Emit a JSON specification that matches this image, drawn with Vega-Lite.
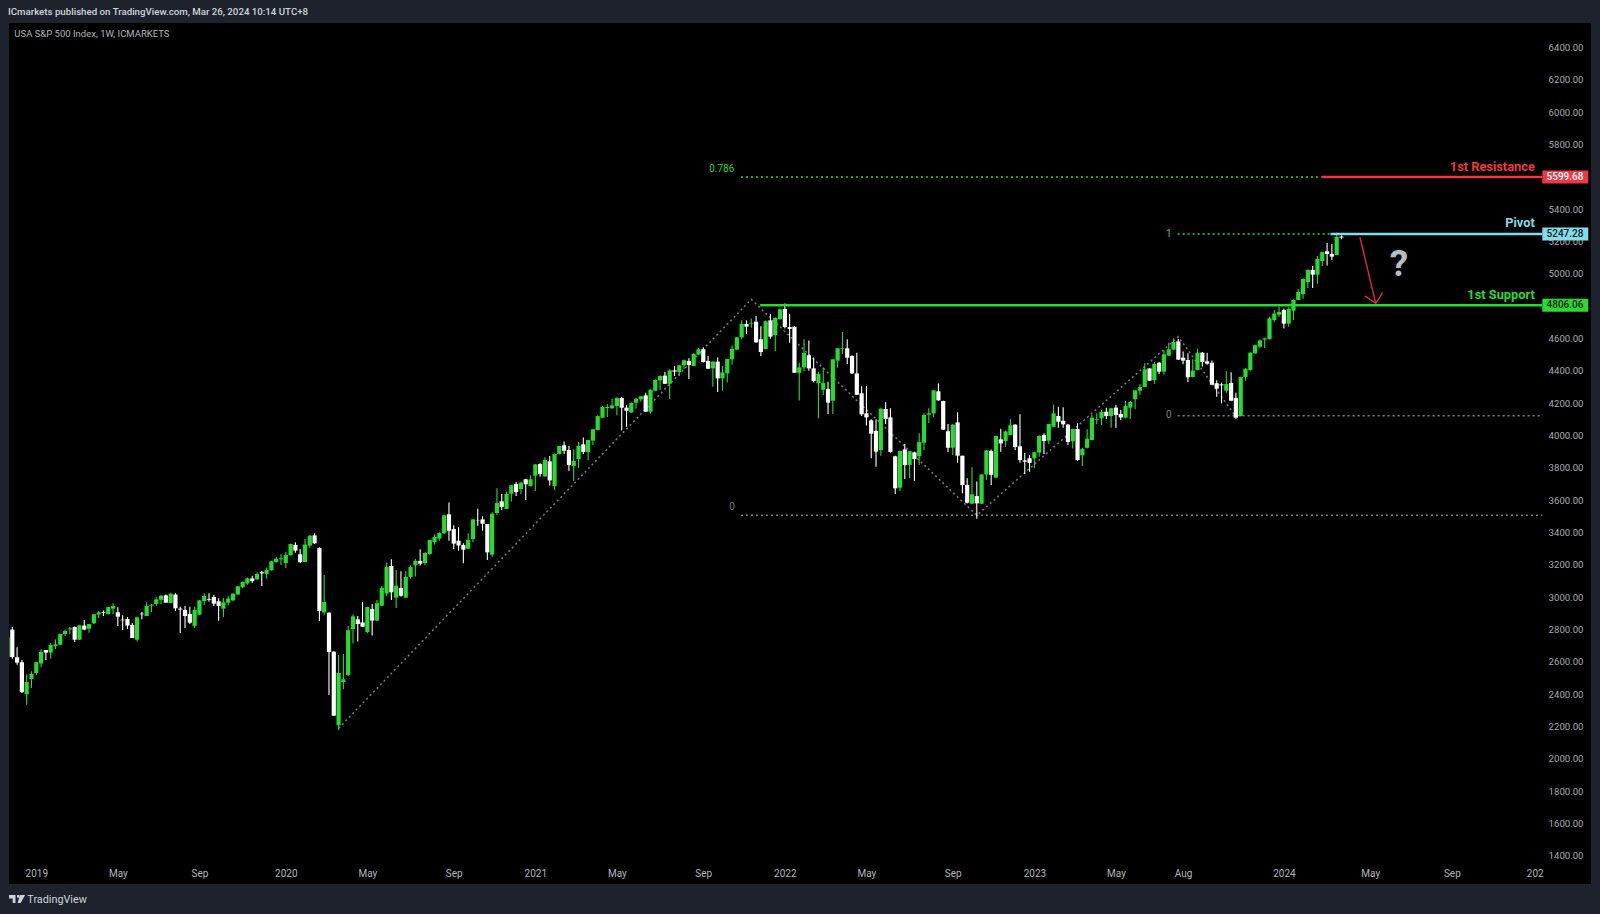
{"$schema":"https://vega.github.io/schema/vega-lite/v6.json","width":1582,"height":861,"autosize":{"type":"none"},"padding":{"left":9,"top":23,"right":9,"bottom":30},"background":"#1e222d","view":{"fill":"#000000","stroke":null},
"title":{"text":"ICmarkets published on TradingView.com, Mar 26, 2024 10:14 UTC+8","anchor":"start","frame":"group","offset":6,"dx":-1,"font":"Roboto","fontSize":9.7,"fontWeight":500,"color":"#d1d4dc"},
"config":{"axis":{"grid":false,"domain":false,"ticks":false,"title":null}},
"datasets":{
"candles":[
{"date":"2018-11-26","open":2629,"high":2760,"low":2620,"close":2752},
{"date":"2018-12-03","open":2800,"high":2816,"low":2620,"close":2631},
{"date":"2018-12-10","open":2629,"high":2691,"low":2583,"close":2596},
{"date":"2018-12-17","open":2598,"high":2612,"low":2408,"close":2414},
{"date":"2018-12-24","open":2400,"high":2524,"low":2336,"close":2476},
{"date":"2018-12-31","open":2495,"high":2542,"low":2439,"close":2526},
{"date":"2019-01-07","open":2532,"high":2600,"low":2519,"close":2598},
{"date":"2019-01-14","open":2590,"high":2678,"low":2567,"close":2662},
{"date":"2019-01-21","open":2674,"high":2674,"low":2612,"close":2658},
{"date":"2019-01-28","open":2658,"high":2719,"low":2620,"close":2705},
{"date":"2019-02-04","open":2697,"high":2740,"low":2680,"close":2709},
{"date":"2019-02-11","open":2707,"high":2775,"low":2703,"close":2773},
{"date":"2019-02-18","open":2773,"high":2800,"low":2761,"close":2792},
{"date":"2019-02-25","open":2802,"high":2816,"low":2773,"close":2808},
{"date":"2019-03-04","open":2816,"high":2820,"low":2724,"close":2738},
{"date":"2019-03-11","open":2738,"high":2829,"low":2736,"close":2827},
{"date":"2019-03-18","open":2825,"high":2860,"low":2796,"close":2800},
{"date":"2019-03-25","open":2806,"high":2835,"low":2781,"close":2835},
{"date":"2019-04-01","open":2839,"high":2897,"low":2835,"close":2895},
{"date":"2019-04-08","open":2893,"high":2913,"low":2872,"close":2907},
{"date":"2019-04-15","open":2907,"high":2919,"low":2884,"close":2903},
{"date":"2019-04-22","open":2897,"high":2942,"low":2893,"close":2940},
{"date":"2019-04-29","open":2930,"high":2963,"low":2897,"close":2946},
{"date":"2019-05-06","open":2907,"high":2938,"low":2823,"close":2880},
{"date":"2019-05-13","open":2862,"high":2889,"low":2798,"close":2858},
{"date":"2019-05-20","open":2866,"high":2878,"low":2804,"close":2825},
{"date":"2019-05-27","open":2829,"high":2841,"low":2748,"close":2748},
{"date":"2019-06-03","open":2738,"high":2882,"low":2728,"close":2876},
{"date":"2019-06-10","open":2899,"high":2911,"low":2864,"close":2895},
{"date":"2019-06-17","open":2884,"high":2969,"low":2884,"close":2946},
{"date":"2019-06-24","open":2948,"high":2959,"low":2909,"close":2955},
{"date":"2019-07-01","open":2959,"high":3000,"low":2948,"close":2987},
{"date":"2019-07-08","open":2985,"high":3014,"low":2959,"close":3010},
{"date":"2019-07-15","open":3012,"high":3017,"low":2967,"close":2967},
{"date":"2019-07-22","open":2965,"high":3025,"low":2963,"close":3023},
{"date":"2019-07-29","open":3017,"high":3025,"low":2915,"close":2932},
{"date":"2019-08-05","open":2930,"high":2942,"low":2779,"close":2924},
{"date":"2019-08-12","open":2922,"high":2946,"low":2810,"close":2884},
{"date":"2019-08-19","open":2897,"high":2942,"low":2835,"close":2843},
{"date":"2019-08-26","open":2823,"high":2942,"low":2808,"close":2922},
{"date":"2019-09-02","open":2893,"high":2983,"low":2891,"close":2981},
{"date":"2019-09-09","open":2977,"high":3025,"low":2952,"close":3008},
{"date":"2019-09-16","open":2990,"high":3025,"low":2973,"close":2985},
{"date":"2019-09-23","open":3002,"high":3014,"low":2946,"close":2961},
{"date":"2019-09-30","open":2975,"high":2994,"low":2855,"close":2946},
{"date":"2019-10-07","open":2930,"high":2996,"low":2876,"close":2969},
{"date":"2019-10-14","open":2967,"high":3008,"low":2950,"close":2992},
{"date":"2019-10-21","open":2981,"high":3025,"low":2977,"close":3023},
{"date":"2019-10-28","open":3017,"high":3070,"low":3018,"close":3068},
{"date":"2019-11-04","open":3062,"high":3097,"low":3058,"close":3095},
{"date":"2019-11-11","open":3086,"high":3122,"low":3078,"close":3117},
{"date":"2019-11-18","open":3117,"high":3134,"low":3089,"close":3101},
{"date":"2019-11-25","open":3111,"high":3155,"low":3109,"close":3144},
{"date":"2019-12-02","open":3155,"high":3163,"low":3070,"close":3148},
{"date":"2019-12-09","open":3144,"high":3185,"low":3115,"close":3169},
{"date":"2019-12-16","open":3167,"high":3225,"low":3165,"close":3223},
{"date":"2019-12-23","open":3218,"high":3249,"low":3216,"close":3239},
{"date":"2019-12-30","open":3235,"high":3266,"low":3200,"close":3241},
{"date":"2020-01-06","open":3212,"high":3282,"low":3181,"close":3262},
{"date":"2020-01-13","open":3260,"high":3332,"low":3258,"close":3330},
{"date":"2020-01-20","open":3324,"high":3340,"low":3276,"close":3289},
{"date":"2020-01-27","open":3266,"high":3299,"low":3212,"close":3218},
{"date":"2020-02-03","open":3218,"high":3361,"low":3218,"close":3326},
{"date":"2020-02-10","open":3320,"high":3385,"low":3307,"close":3381},
{"date":"2020-02-17","open":3383,"high":3396,"low":3330,"close":3334},
{"date":"2020-02-24","open":3305,"high":3309,"low":2853,"close":2915},
{"date":"2020-03-02","open":2907,"high":3138,"low":2891,"close":2971},
{"date":"2020-03-09","open":2905,"high":2907,"low":2396,"close":2662},
{"date":"2020-03-16","open":2664,"high":2666,"low":2266,"close":2268},
{"date":"2020-03-23","open":2208,"high":2643,"low":2179,"close":2532},
{"date":"2020-03-30","open":2476,"high":2649,"low":2431,"close":2493},
{"date":"2020-04-06","open":2519,"high":2823,"low":2515,"close":2796},
{"date":"2020-04-13","open":2804,"high":2895,"low":2715,"close":2882},
{"date":"2020-04-20","open":2864,"high":2884,"low":2726,"close":2835},
{"date":"2020-04-27","open":2845,"high":2971,"low":2818,"close":2818},
{"date":"2020-05-04","open":2785,"high":2942,"low":2777,"close":2940},
{"date":"2020-05-11","open":2928,"high":2959,"low":2763,"close":2856},
{"date":"2020-05-18","open":2856,"high":2983,"low":2853,"close":2963},
{"date":"2020-05-25","open":2948,"high":3070,"low":2946,"close":3058},
{"date":"2020-06-01","open":3023,"high":3216,"low":3008,"close":3188},
{"date":"2020-06-08","open":3194,"high":3235,"low":2983,"close":3031},
{"date":"2020-06-15","open":2998,"high":3169,"low":2934,"close":3072},
{"date":"2020-06-22","open":3057,"high":3161,"low":3004,"close":3010},
{"date":"2020-06-29","open":2998,"high":3161,"low":2998,"close":3126},
{"date":"2020-07-06","open":3126,"high":3196,"low":3117,"close":3187},
{"date":"2020-07-13","open":3198,"high":3239,"low":3128,"close":3225},
{"date":"2020-07-20","open":3225,"high":3297,"low":3196,"close":3208},
{"date":"2020-07-27","open":3212,"high":3278,"low":3198,"close":3274},
{"date":"2020-08-03","open":3268,"high":3356,"low":3264,"close":3354},
{"date":"2020-08-10","open":3342,"high":3389,"low":3326,"close":3373},
{"date":"2020-08-17","open":3363,"high":3402,"low":3350,"close":3398},
{"date":"2020-08-24","open":3396,"high":3511,"low":3392,"close":3507},
{"date":"2020-08-31","open":3513,"high":3587,"low":3350,"close":3412},
{"date":"2020-09-07","open":3422,"high":3445,"low":3299,"close":3332},
{"date":"2020-09-14","open":3350,"high":3433,"low":3288,"close":3321},
{"date":"2020-09-21","open":3323,"high":3334,"low":3210,"close":3295},
{"date":"2020-09-28","open":3301,"high":3396,"low":3299,"close":3354},
{"date":"2020-10-05","open":3361,"high":3486,"low":3340,"close":3482},
{"date":"2020-10-12","open":3476,"high":3548,"low":3443,"close":3474},
{"date":"2020-10-19","open":3482,"high":3501,"low":3412,"close":3455},
{"date":"2020-10-26","open":3453,"high":3453,"low":3231,"close":3278},
{"date":"2020-11-02","open":3264,"high":3526,"low":3251,"close":3517},
{"date":"2020-11-09","open":3521,"high":3674,"low":3511,"close":3583},
{"date":"2020-11-16","open":3594,"high":3639,"low":3540,"close":3559},
{"date":"2020-11-23","open":3546,"high":3655,"low":3546,"close":3639},
{"date":"2020-11-30","open":3641,"high":3695,"low":3592,"close":3693},
{"date":"2020-12-07","open":3701,"high":3713,"low":3627,"close":3651},
{"date":"2020-12-14","open":3670,"high":3715,"low":3639,"close":3709},
{"date":"2020-12-21","open":3730,"high":3734,"low":3602,"close":3699},
{"date":"2020-12-28","open":3688,"high":3754,"low":3686,"close":3730},
{"date":"2021-01-04","open":3752,"high":3824,"low":3657,"close":3822},
{"date":"2021-01-11","open":3824,"high":3829,"low":3746,"close":3763},
{"date":"2021-01-18","open":3748,"high":3866,"low":3746,"close":3849},
{"date":"2021-01-25","open":3841,"high":3874,"low":3691,"close":3723},
{"date":"2021-02-01","open":3688,"high":3890,"low":3664,"close":3886},
{"date":"2021-02-08","open":3886,"high":3938,"low":3884,"close":3936},
{"date":"2021-02-15","open":3940,"high":3963,"low":3886,"close":3907},
{"date":"2021-02-22","open":3911,"high":3936,"low":3781,"close":3818},
{"date":"2021-03-01","open":3812,"high":3915,"low":3719,"close":3843},
{"date":"2021-03-08","open":3855,"high":3961,"low":3800,"close":3936},
{"date":"2021-03-15","open":3946,"high":3989,"low":3886,"close":3899},
{"date":"2021-03-22","open":3899,"high":3975,"low":3849,"close":3973},
{"date":"2021-03-29","open":3969,"high":4041,"low":3942,"close":4039},
{"date":"2021-04-05","open":4035,"high":4126,"low":4033,"close":4121},
{"date":"2021-04-12","open":4111,"high":4181,"low":4109,"close":4177},
{"date":"2021-04-19","open":4171,"high":4196,"low":4115,"close":4177},
{"date":"2021-04-26","open":4169,"high":4230,"low":4167,"close":4187},
{"date":"2021-05-03","open":4183,"high":4237,"low":4126,"close":4233},
{"date":"2021-05-10","open":4233,"high":4241,"low":4031,"close":4173},
{"date":"2021-05-17","open":4173,"high":4190,"low":4055,"close":4154},
{"date":"2021-05-24","open":4144,"high":4206,"low":4140,"close":4202},
{"date":"2021-05-31","open":4204,"high":4233,"low":4167,"close":4227},
{"date":"2021-06-07","open":4225,"high":4247,"low":4210,"close":4243},
{"date":"2021-06-14","open":4249,"high":4266,"low":4146,"close":4148},
{"date":"2021-06-21","open":4148,"high":4286,"low":4136,"close":4284},
{"date":"2021-06-28","open":4278,"high":4348,"low":4274,"close":4344},
{"date":"2021-07-05","open":4342,"high":4373,"low":4282,"close":4369},
{"date":"2021-07-12","open":4371,"high":4394,"low":4319,"close":4321},
{"date":"2021-07-19","open":4321,"high":4410,"low":4227,"close":4404},
{"date":"2021-07-26","open":4404,"high":4431,"low":4369,"close":4396},
{"date":"2021-08-02","open":4394,"high":4439,"low":4369,"close":4435},
{"date":"2021-08-09","open":4435,"high":4470,"low":4412,"close":4466},
{"date":"2021-08-16","open":4462,"high":4478,"low":4350,"close":4437},
{"date":"2021-08-23","open":4431,"high":4509,"low":4429,"close":4505},
{"date":"2021-08-30","open":4501,"high":4542,"low":4497,"close":4534},
{"date":"2021-09-06","open":4534,"high":4546,"low":4453,"close":4455},
{"date":"2021-09-13","open":4462,"high":4493,"low":4412,"close":4414},
{"date":"2021-09-20","open":4416,"high":4460,"low":4303,"close":4458},
{"date":"2021-09-27","open":4458,"high":4484,"low":4270,"close":4354},
{"date":"2021-10-04","open":4354,"high":4431,"low":4278,"close":4391},
{"date":"2021-10-11","open":4385,"high":4476,"low":4328,"close":4474},
{"date":"2021-10-18","open":4472,"high":4558,"low":4439,"close":4536},
{"date":"2021-10-25","open":4532,"high":4610,"low":4528,"close":4608},
{"date":"2021-11-01","open":4608,"high":4713,"low":4596,"close":4691},
{"date":"2021-11-08","open":4691,"high":4713,"low":4629,"close":4674},
{"date":"2021-11-15","open":4693,"high":4725,"low":4668,"close":4697},
{"date":"2021-11-22","open":4705,"high":4740,"low":4575,"close":4577},
{"date":"2021-11-29","open":4596,"high":4676,"low":4493,"close":4517},
{"date":"2021-12-06","open":4536,"high":4711,"low":4534,"close":4707},
{"date":"2021-12-13","open":4713,"high":4752,"low":4600,"close":4612},
{"date":"2021-12-20","open":4622,"high":4732,"low":4523,"close":4728},
{"date":"2021-12-27","open":4721,"high":4787,"low":4719,"close":4781},
{"date":"2022-01-03","open":4783,"high":4818,"low":4662,"close":4672},
{"date":"2022-01-10","open":4672,"high":4752,"low":4575,"close":4660},
{"date":"2022-01-17","open":4674,"high":4678,"low":4389,"close":4389},
{"date":"2022-01-24","open":4389,"high":4451,"low":4218,"close":4422},
{"date":"2022-01-31","open":4422,"high":4596,"low":4400,"close":4511},
{"date":"2022-02-07","open":4497,"high":4589,"low":4402,"close":4416},
{"date":"2022-02-14","open":4416,"high":4484,"low":4328,"close":4338},
{"date":"2022-02-21","open":4325,"high":4396,"low":4107,"close":4381},
{"date":"2022-02-28","open":4284,"high":4422,"low":4251,"close":4325},
{"date":"2022-03-07","open":4288,"high":4334,"low":4134,"close":4204},
{"date":"2022-03-14","open":4216,"high":4474,"low":4134,"close":4472},
{"date":"2022-03-21","open":4464,"high":4542,"low":4420,"close":4540},
{"date":"2022-03-28","open":4536,"high":4641,"low":4505,"close":4540},
{"date":"2022-04-04","open":4540,"high":4596,"low":4443,"close":4482},
{"date":"2022-04-11","open":4492,"high":4497,"low":4381,"close":4385},
{"date":"2022-04-18","open":4385,"high":4513,"low":4251,"close":4253},
{"date":"2022-04-25","open":4262,"high":4305,"low":4121,"close":4132},
{"date":"2022-05-02","open":4138,"high":4307,"low":4062,"close":4113},
{"date":"2022-05-09","open":4094,"high":4101,"low":3860,"close":4012},
{"date":"2022-05-16","open":4029,"high":4101,"low":3808,"close":3901},
{"date":"2022-05-23","open":3911,"high":4169,"low":3876,"close":4167},
{"date":"2022-05-30","open":4165,"high":4206,"low":4072,"close":4103},
{"date":"2022-06-06","open":4113,"high":4169,"low":3895,"close":3899},
{"date":"2022-06-13","open":3872,"high":3876,"low":3639,"close":3674},
{"date":"2022-06-20","open":3678,"high":3907,"low":3657,"close":3905},
{"date":"2022-06-27","open":3915,"high":3948,"low":3732,"close":3818},
{"date":"2022-07-04","open":3818,"high":3903,"low":3738,"close":3903},
{"date":"2022-07-11","open":3897,"high":3901,"low":3719,"close":3855},
{"date":"2022-07-18","open":3872,"high":4014,"low":3818,"close":3961},
{"date":"2022-07-25","open":3956,"high":4138,"low":3911,"close":4128},
{"date":"2022-08-01","open":4130,"high":4169,"low":4078,"close":4138},
{"date":"2022-08-08","open":4138,"high":4282,"low":4113,"close":4280},
{"date":"2022-08-15","open":4274,"high":4323,"low":4216,"close":4218},
{"date":"2022-08-22","open":4214,"high":4216,"low":4035,"close":4037},
{"date":"2022-08-29","open":4027,"high":4072,"low":3899,"close":3925},
{"date":"2022-09-05","open":3925,"high":4072,"low":3880,"close":4068},
{"date":"2022-09-12","open":4082,"high":4144,"low":3833,"close":3876},
{"date":"2022-09-19","open":3876,"high":3876,"low":3643,"close":3694},
{"date":"2022-09-26","open":3694,"high":3736,"low":3581,"close":3585},
{"date":"2022-10-03","open":3579,"high":3804,"low":3577,"close":3637},
{"date":"2022-10-10","open":3626,"high":3717,"low":3486,"close":3581},
{"date":"2022-10-17","open":3579,"high":3760,"low":3577,"close":3760},
{"date":"2022-10-24","open":3760,"high":3911,"low":3725,"close":3909},
{"date":"2022-10-31","open":3905,"high":3915,"low":3694,"close":3758},
{"date":"2022-11-07","open":3740,"high":4000,"low":3740,"close":3998},
{"date":"2022-11-14","open":3977,"high":4043,"low":3901,"close":3952},
{"date":"2022-11-21","open":3967,"high":4031,"low":3932,"close":4026},
{"date":"2022-11-28","open":4004,"high":4101,"low":4002,"close":4064},
{"date":"2022-12-05","open":4068,"high":4070,"low":3911,"close":3930},
{"date":"2022-12-12","open":3934,"high":4132,"low":3833,"close":3849},
{"date":"2022-12-19","open":3847,"high":3892,"low":3763,"close":3839},
{"date":"2022-12-26","open":3860,"high":3878,"low":3777,"close":3831},
{"date":"2023-01-02","open":3860,"high":3901,"low":3798,"close":3897},
{"date":"2023-01-09","open":3895,"high":4002,"low":3870,"close":3998},
{"date":"2023-01-16","open":4004,"high":4014,"low":3886,"close":3967},
{"date":"2023-01-23","open":3969,"high":4074,"low":3948,"close":4072},
{"date":"2023-01-30","open":4055,"high":4193,"low":4053,"close":4138},
{"date":"2023-02-06","open":4121,"high":4179,"low":4049,"close":4086},
{"date":"2023-02-13","open":4092,"high":4175,"low":4049,"close":4070},
{"date":"2023-02-20","open":4068,"high":4072,"low":3942,"close":3961},
{"date":"2023-02-27","open":3965,"high":4043,"low":3921,"close":4041},
{"date":"2023-03-06","open":4041,"high":4076,"low":3845,"close":3849},
{"date":"2023-03-13","open":3878,"high":3925,"low":3812,"close":3917},
{"date":"2023-03-20","open":3925,"high":4039,"low":3921,"close":3981},
{"date":"2023-03-27","open":3973,"high":4128,"low":3971,"close":4111},
{"date":"2023-04-03","open":4099,"high":4138,"low":4070,"close":4103},
{"date":"2023-04-10","open":4107,"high":4159,"low":4066,"close":4148},
{"date":"2023-04-17","open":4148,"high":4173,"low":4103,"close":4121},
{"date":"2023-04-24","open":4121,"high":4173,"low":4049,"close":4169},
{"date":"2023-05-01","open":4173,"high":4190,"low":4049,"close":4128},
{"date":"2023-05-08","open":4134,"high":4159,"low":4097,"close":4113},
{"date":"2023-05-15","open":4111,"high":4214,"low":4107,"close":4183},
{"date":"2023-05-22","open":4173,"high":4214,"low":4103,"close":4208},
{"date":"2023-05-29","open":4225,"high":4284,"low":4163,"close":4280},
{"date":"2023-06-05","open":4278,"high":4319,"low":4253,"close":4301},
{"date":"2023-06-12","open":4301,"high":4447,"low":4299,"close":4410},
{"date":"2023-06-19","open":4416,"high":4416,"low":4338,"close":4340},
{"date":"2023-06-26","open":4344,"high":4455,"low":4319,"close":4443},
{"date":"2023-07-03","open":4451,"high":4455,"low":4381,"close":4396},
{"date":"2023-07-10","open":4396,"high":4526,"low":4377,"close":4503},
{"date":"2023-07-17","open":4495,"high":4575,"low":4493,"close":4534},
{"date":"2023-07-24","open":4532,"high":4602,"low":4528,"close":4579},
{"date":"2023-07-31","open":4583,"high":4598,"low":4468,"close":4470},
{"date":"2023-08-07","open":4482,"high":4521,"low":4441,"close":4464},
{"date":"2023-08-14","open":4468,"high":4509,"low":4332,"close":4361},
{"date":"2023-08-21","open":4363,"high":4472,"low":4359,"close":4402},
{"date":"2023-08-28","open":4406,"high":4538,"low":4404,"close":4513},
{"date":"2023-09-04","open":4513,"high":4517,"low":4427,"close":4455},
{"date":"2023-09-11","open":4460,"high":4513,"low":4439,"close":4445},
{"date":"2023-09-18","open":4451,"high":4464,"low":4315,"close":4315},
{"date":"2023-09-25","open":4324,"high":4342,"low":4241,"close":4291},
{"date":"2023-10-02","open":4317,"high":4328,"low":4200,"close":4311},
{"date":"2023-10-09","open":4278,"high":4398,"low":4266,"close":4319},
{"date":"2023-10-16","open":4326,"high":4392,"low":4214,"close":4216},
{"date":"2023-10-23","open":4233,"high":4266,"low":4105,"close":4111},
{"date":"2023-10-30","open":4121,"high":4365,"low":4119,"close":4363},
{"date":"2023-11-06","open":4363,"high":4416,"low":4340,"close":4414},
{"date":"2023-11-13","open":4406,"high":4515,"low":4402,"close":4513},
{"date":"2023-11-20","open":4509,"high":4563,"low":4507,"close":4559},
{"date":"2023-11-27","open":4550,"high":4594,"low":4540,"close":4589},
{"date":"2023-12-04","open":4594,"high":4606,"low":4542,"close":4602},
{"date":"2023-12-11","open":4596,"high":4736,"low":4596,"close":4726},
{"date":"2023-12-18","open":4715,"high":4777,"low":4701,"close":4755},
{"date":"2023-12-25","open":4748,"high":4798,"low":4736,"close":4765},
{"date":"2024-01-01","open":4777,"high":4786,"low":4662,"close":4693},
{"date":"2024-01-08","open":4693,"high":4794,"low":4674,"close":4783},
{"date":"2024-01-15","open":4773,"high":4843,"low":4715,"close":4839},
{"date":"2024-01-22","open":4839,"high":4905,"low":4839,"close":4889},
{"date":"2024-01-29","open":4876,"high":4973,"low":4847,"close":4969},
{"date":"2024-02-05","open":4950,"high":5027,"low":4913,"close":5025},
{"date":"2024-02-12","open":5025,"high":5049,"low":4913,"close":4996},
{"date":"2024-02-19","open":4996,"high":5111,"low":4940,"close":5093},
{"date":"2024-02-26","open":5080,"high":5138,"low":5049,"close":5136},
{"date":"2024-03-04","open":5140,"high":5192,"low":5052,"close":5124},
{"date":"2024-03-11","open":5124,"high":5186,"low":5087,"close":5107},
{"date":"2024-03-18","open":5117,"high":5256,"low":5117,"close":5229},
{"date":"2024-03-25","open":5231,"high":5239,"low":5214,"close":5225}
],
"trend":[
{"date":"2020-03-23","price":2190},
{"date":"2021-11-15","price":4843},
{"date":"2022-10-10","price":3507},
{"date":"2023-07-31","price":4612},
{"date":"2023-10-23","price":4117}
],
"fibs":[
{"date":"2021-10-31","end":"2024-02-25","price":5599.68,"kind":"green"},
{"date":"2023-07-30","end":"2024-03-09","price":5247.28,"kind":"green"},
{"date":"2023-07-30","end":"2025-01-12","price":4123,"kind":"grey"},
{"date":"2021-10-31","end":"2025-01-12","price":3507,"kind":"grey"}
],
"levels":[
{"date":"2024-02-25","end":"2025-01-12","price":5599.68,"kind":"red"},
{"date":"2024-03-09","end":"2025-01-12","price":5247.28,"kind":"cyan"},
{"date":"2021-11-28","end":"2025-01-12","price":4806.06,"kind":"green"}
],
"boxes":[
{"date":"2025-01-12","end":"2025-03-20","price":5599.68,"kind":"red"},
{"date":"2025-01-12","end":"2025-03-20","price":5247.28,"kind":"cyan"},
{"date":"2025-01-12","end":"2025-03-20","price":4806.06,"kind":"green"}
],
"arrow":[
{"date":"2024-04-21","price":5227,"part":"shaft"},
{"date":"2024-05-14","price":4818,"part":"shaft"},
{"date":"2024-04-28","price":4864,"part":"head"},
{"date":"2024-05-14","price":4818,"part":"head"},
{"date":"2024-05-24","price":4884,"part":"head"}
],
"names":[
{"date":"2025-01-01","price":5661,"text":"1st Resistance","kind":"red"},
{"date":"2025-01-01","price":5315,"text":"Pivot","kind":"cyan"},
{"date":"2025-01-01","price":4872,"text":"1st Support","kind":"green"}
],
"values":[
{"date":"2025-02-14","price":5599.68,"text":"5599.68","kind":"white"},
{"date":"2025-02-14","price":5247.28,"text":"5247.28","kind":"dark"},
{"date":"2025-02-14","price":4806.06,"text":"4806.06","kind":"dark"}
],
"fiblabels":[
{"date":"2021-10-03","price":5647,"text":"0.786","kind":"green"},
{"date":"2023-07-17","price":5247,"text":"1","kind":"green"},
{"date":"2023-07-17","price":4128,"text":"0","kind":"grey"},
{"date":"2021-10-18","price":3558,"text":"0","kind":"grey"}
],
"question":[{"date":"2024-06-17","price":5055,"text":"?"}],
"legendtext":[{"date":"2018-12-06","price":6484,"text":"USA S&P 500 Index, 1W, ICMARKETS"}],
"footer":[{"date":"2018-12-25","price":1128,"text":"TradingView"}],
"logo":[{"date":"2018-12-10","price":1134}]
},
"encoding":{
"x":{"field":"date","type":"temporal","scale":{"type":"utc","domain":["2018-11-28T05:00:00Z","2025-03-24T00:00:00Z"],"nice":false,"padding":0},
"axis":{"orient":"bottom","values":["2019-01-07","2019-05-06","2019-09-02","2020-01-06","2020-05-04","2020-09-07","2021-01-04","2021-05-03","2021-09-06","2022-01-03","2022-05-02","2022-09-05","2023-01-02","2023-05-01","2023-08-07","2024-01-01","2024-05-06","2024-09-02","2025-01-01"],
"labelExpr":"utcyear(datum.value)==2025?'202':(utcmonth(datum.value)==0?utcFormat(datum.value,'%Y'):utcFormat(datum.value,'%b'))","labelPadding":-16,"labelFont":"Roboto","labelFontSize":10,"labelColor":"#b2b5be","labelOverlap":false,"labelFlush":false,"labelBound":false}},
"y":{"field":"price","type":"quantitative","scale":{"domain":[1226.7,6552.3],"nice":false,"zero":false},
"axis":{"orient":"right","values":[1400,1600,1800,2000,2200,2400,2600,2800,3000,3200,3400,3600,3800,4000,4200,4400,4600,5000,5200,5400,5800,6000,6200,6400],"format":".2f","labelAlign":"right","labelPadding":-8,"labelFont":"Roboto","labelFontSize":9.6,"labelColor":"#a6a9b3","labelOverlap":false,"labelFlush":false,"labelBound":false}}
},
"layer":[
{"data":{"name":"trend"},"mark":{"type":"line","color":"#787b86","strokeWidth":1.5,"strokeDash":[2,3],"interpolate":"linear"}},
{"data":{"name":"fibs"},"mark":{"type":"rule","strokeWidth":1.5,"strokeDash":[2,3]},"encoding":{"x2":{"field":"end"},"color":{"field":"kind","type":"nominal","legend":null,"scale":{"domain":["red","cyan","green","grey","white","dark"],"range":["#f23645","#80deea","#26dc2e","#787b86","#ffffff","#131722"]}}}},
{"data":{"name":"candles"},"mark":{"type":"rule","strokeWidth":1.1,"clip":true},"encoding":{"y":{"field":"low","type":"quantitative"},"y2":{"field":"high"},"color":{"condition":{"test":"datum.close>=datum.open","value":"#26dc2e"},"value":"#ffffff"}}},
{"data":{"name":"candles"},"mark":{"type":"bar","size":4.2,"clip":true},"encoding":{"y":{"field":"open","type":"quantitative"},"y2":{"field":"close"},"color":{"condition":{"test":"datum.close>=datum.open","value":"#26dc2e"},"value":"#ffffff"}}},
{"data":{"name":"levels"},"mark":{"type":"rule","strokeWidth":2.6},"encoding":{"x2":{"field":"end"},"color":{"field":"kind","type":"nominal","legend":null}}},
{"data":{"name":"boxes"},"mark":{"type":"rule","strokeWidth":13},"encoding":{"x2":{"field":"end"},"color":{"field":"kind","type":"nominal","legend":null}}},
{"data":{"name":"arrow"},"mark":{"type":"line","color":"#e5293f","strokeWidth":1.4},"encoding":{"detail":{"field":"part"},"order":{"field":"date"}}},
{"data":{"name":"names"},"mark":{"type":"text","align":"right","baseline":"middle","font":"Roboto","fontSize":12.8,"fontWeight":"bold"},"encoding":{"text":{"field":"text"},"color":{"field":"kind","type":"nominal","legend":null}}},
{"data":{"name":"values"},"mark":{"type":"text","align":"center","baseline":"middle","font":"Roboto","fontSize":10,"fontWeight":500},"encoding":{"text":{"field":"text"},"color":{"field":"kind","type":"nominal","legend":null}}},
{"data":{"name":"fiblabels"},"mark":{"type":"text","align":"center","baseline":"middle","font":"Roboto","fontSize":10},"encoding":{"text":{"field":"text"},"color":{"field":"kind","type":"nominal","legend":null}}},
{"data":{"name":"question"},"mark":{"type":"text","align":"center","baseline":"middle","font":"Roboto","fontSize":37,"fontWeight":"bold","color":"#b2bec3"},"encoding":{"text":{"field":"text"}}},
{"data":{"name":"legendtext"},"mark":{"type":"text","align":"left","baseline":"middle","font":"Roboto","fontSize":9.5,"color":"#b2b5be"},"encoding":{"text":{"field":"text"}}},
{"data":{"name":"footer"},"mark":{"type":"text","align":"left","baseline":"middle","font":"Roboto","fontSize":10.8,"color":"#d1d4dc"},"encoding":{"text":{"field":"text"}}},
{"data":{"name":"logo"},"mark":{"type":"point","filled":true,"color":"#d1d4dc","opacity":1,"size":256,"shape":"M-1 -0.5H-0.2V0.5H-0.55V-0.05H-1ZM0 -0.5H0.3V-0.15H0ZM0.4 -0.5H1L0.45 0.5H0.05Z"}}
]
}
